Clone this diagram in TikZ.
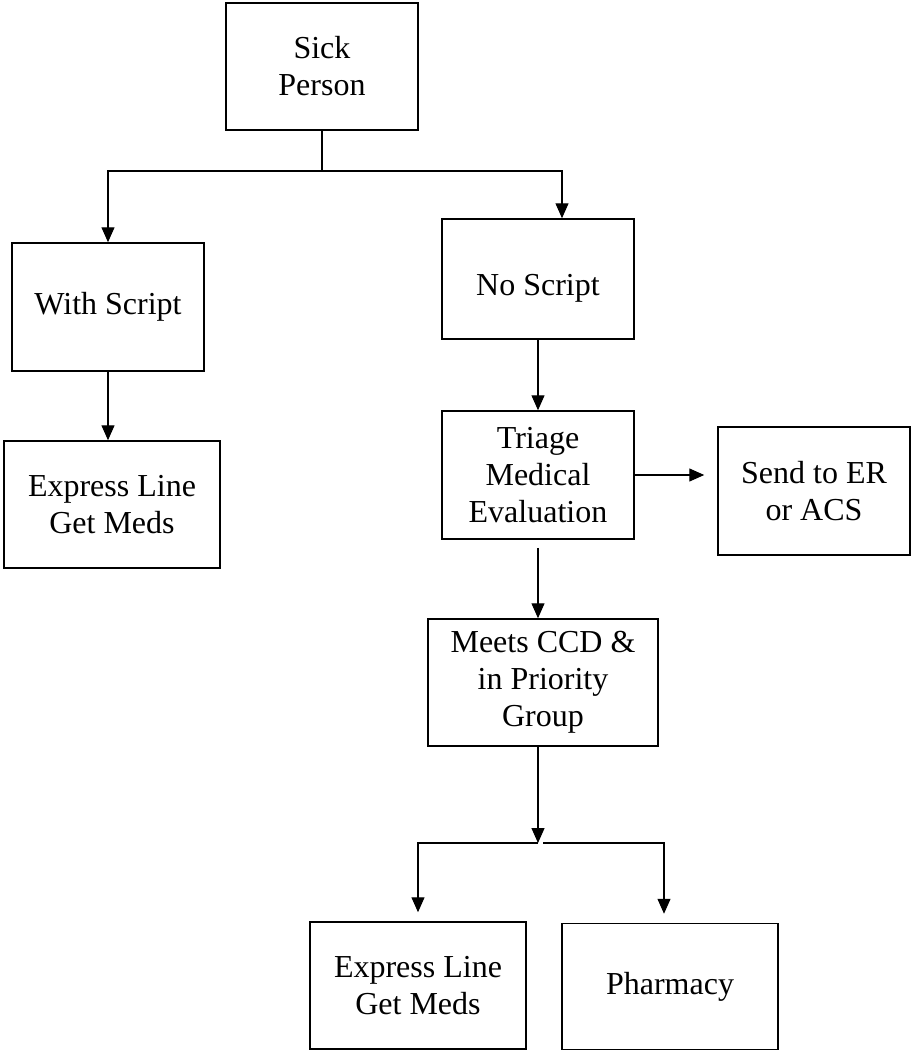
\documentclass[tikz,border=0pt]{standalone}
\usepackage{fontspec}
\setmainfont{Liberation Serif}
\usetikzlibrary{arrows.meta}

\begin{document}
\begin{tikzpicture}[x=1pt,y=1pt,yscale=-1,xscale=1,
        box/.style={draw, line width=1.5, inner sep=0pt, align=center, font=\fontsize{32}{37}\selectfont},
        conn/.style={line width=1.3, -{Triangle[length=15pt,width=13pt]}}]
        \useasboundingbox (0,0) rectangle (911,1051);

        % Text Node
        \node [box, minimum width=192pt, minimum height=127pt] (sick) at (322,66.5) {Sick\\Person};
        % Text Node
        \node [box, minimum width=192pt, minimum height=128pt] (with) at (108,307) {With Script};
        % Text Node
        \node [box, minimum width=216pt, minimum height=127pt] (expl) at (112,504.5) {Express Line\\Get Meds};
        % Text Node
        \node [box, minimum width=192pt, minimum height=120pt, text height=39pt] (nos) at (538,279) {No Script};
        % Text Node
        \node [box, minimum width=192pt, minimum height=128pt] (triage) at (538,475) {Triage\\Medical\\Evaluation};
        % Text Node
        \node [box, minimum width=192pt, minimum height=128pt] (send) at (814,491) {Send to ER\\or ACS};
        % Text Node
        \node [box, minimum width=230pt, minimum height=127pt] (meets) at (543,682.5) {Meets CCD \&\\in Priority\\Group};
        % Text Node
        \node [box, minimum width=216pt, minimum height=127pt] (expb) at (418,985.5) {Express Line\\Get Meds};
        % Text Node
        \node [box, minimum width=216pt, minimum height=126pt] (pharm) at (670,986.5) {Pharmacy};

        \coordinate (split1) at (322,171);
        \coordinate (split2) at (538,843);

        % Connection
        \draw [line width=1.3] (sick.south) -- (split1);
        \draw [conn] (split1) -| (with.north);
        \draw [conn] (split1) -| ([xshift=24pt]nos.north);

        % Connection
        \draw [conn] (with.south) -- (with.south |- expl.north);

        % Connection
        \draw [conn] (nos.south) -- (triage.north);

        % Connection
        \draw [conn, shorten >=13pt] (triage.east) -- (triage.east -| send.west);

        % Connection
        \draw [conn, shorten <=8pt] (triage.south) -- (triage.south |- meets.north);

        % Connection
        \draw [conn] (split2 |- meets.south) -- (split2);
        \draw [conn, shorten >=9pt] (split2) -| (expb.north);
        \draw [conn, shorten >=9pt] ([xshift=5pt]split2) -| ([xshift=-6pt]pharm.north);

\end{tikzpicture}
\end{document}
